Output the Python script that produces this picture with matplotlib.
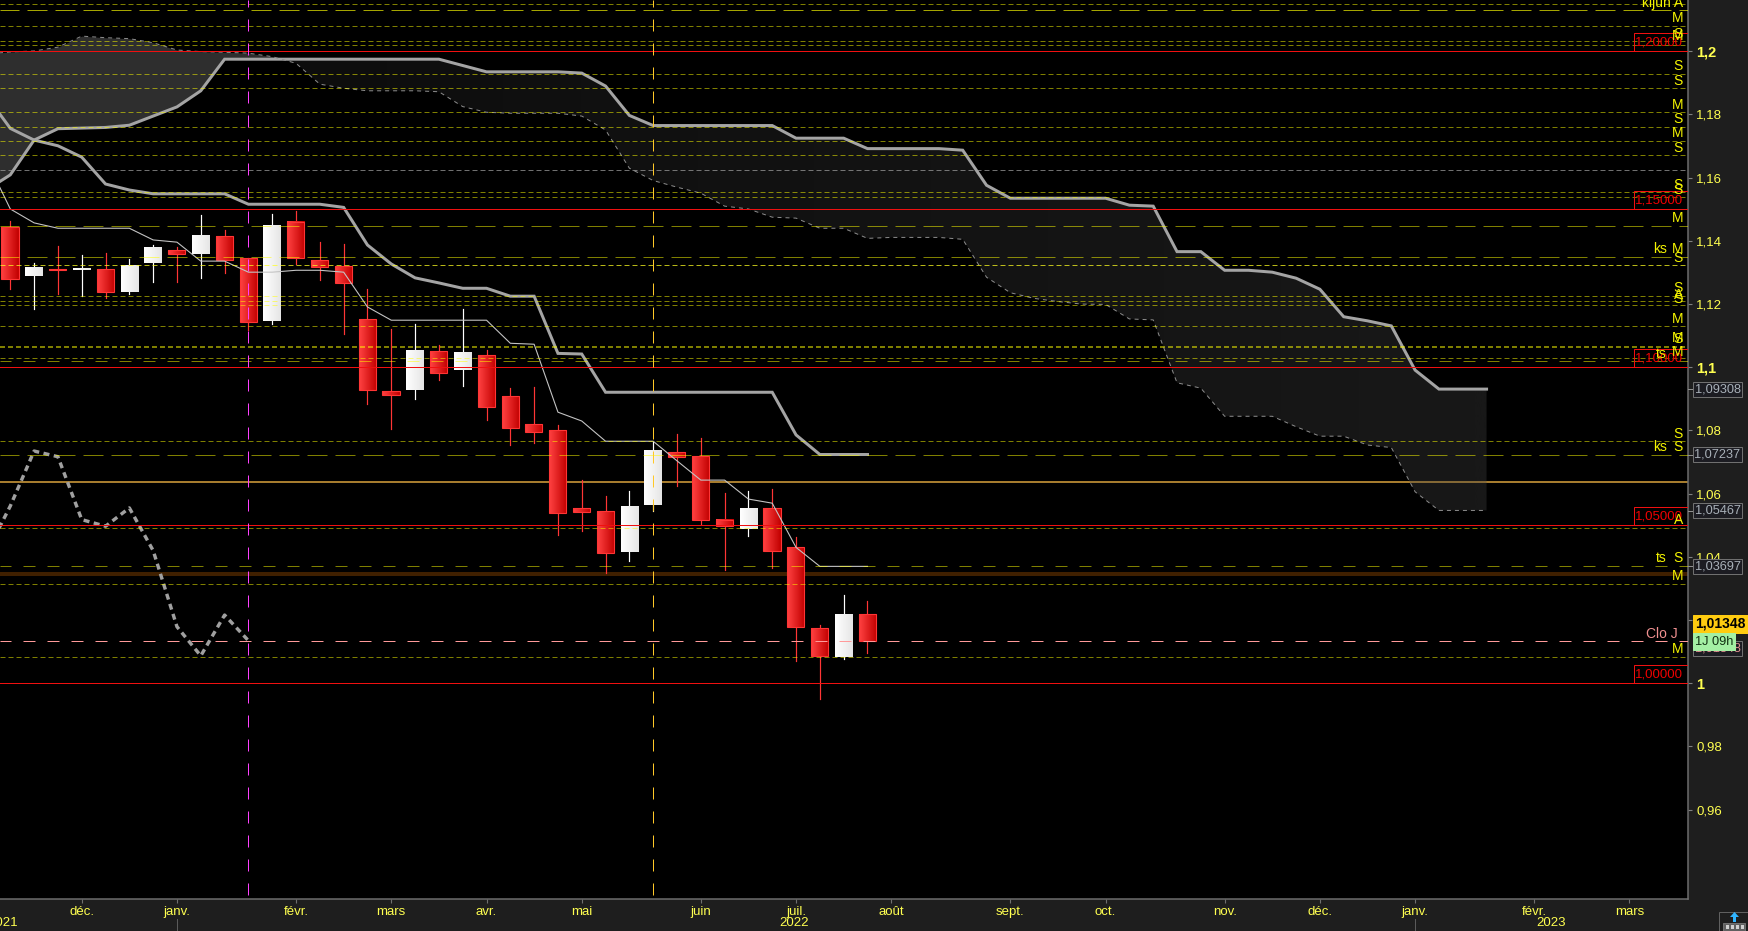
import numpy as np
import matplotlib
matplotlib.use('Agg')
import matplotlib.pyplot as plt
from matplotlib.patches import Rectangle, Polygon
from matplotlib.transforms import blended_transform_factory

W, H = 1748, 931
PX = 0.72  # one pixel in points at dpi 100

# weekly candles
opens = [1.1443, 1.1289, 1.1312, 1.1308, 1.1310, 1.1238, 1.1330, 1.1370, 1.1358, 1.1415, 1.1345, 1.1147, 1.1459,
         1.1339, 1.1321, 1.1152, 1.0924, 1.0928, 1.1051, 1.0991, 1.1038, 1.0908, 1.0820, 1.0801, 1.0554, 1.0544,
         1.0416, 1.0564, 1.0731, 1.0718, 1.0516, 1.0489, 1.0554, 1.0430, 1.0174, 1.0083, 1.0218]
closes = [1.1280, 1.1317, 1.1309, 1.1314, 1.1239, 1.1322, 1.1378, 1.1359, 1.1415, 1.1340, 1.1144, 1.1450, 1.1345,
          1.1318, 1.1268, 1.0929, 1.0913, 1.1052, 1.0983, 1.1045, 1.0875, 1.0809, 1.0796, 1.0540, 1.0543, 1.0413,
          1.0561, 1.0735, 1.0717, 1.0518, 1.0497, 1.0555, 1.0420, 1.0179, 1.0087, 1.0216, 1.0135]
highs = [1.1463, 1.1329, 1.1384, 1.1355, 1.1362, 1.1343, 1.1387, 1.1380, 1.1482, 1.1434, 1.1345, 1.1485, 1.1495,
         1.1397, 1.1390, 1.1248, 1.1121, 1.1137, 1.1071, 1.1184, 1.1055, 1.0934, 1.0938, 1.0817, 1.0643, 1.0593,
         1.0609, 1.0765, 1.0789, 1.0776, 1.0602, 1.0609, 1.0615, 1.0463, 1.0184, 1.0279, 1.0260]
lows = [1.1249, 1.1184, 1.1232, 1.1226, 1.1220, 1.1232, 1.1270, 1.1270, 1.1283, 1.1298, 1.1118, 1.1137, 1.1327,
        1.1276, 1.1105, 1.0884, 1.0805, 1.0900, 1.0960, 1.0941, 1.0833, 1.0754, 1.0760, 1.0469, 1.0482, 1.0349,
        1.0387, 1.0546, 1.0624, 1.0504, 1.0359, 1.0466, 1.0365, 1.0071, 0.9950, 1.0077, 1.0096]

# ichimoku, all start at bar -1 (just off the left edge)
tenkan = [1.1656, 1.1501, 1.1457, 1.1440, 1.1440, 1.1440, 1.1440, 1.1403, 1.1396, 1.1336, 1.1336, 1.1301, 1.1301,
          1.1307, 1.1307, 1.1301, 1.1191, 1.1149, 1.1149, 1.1149, 1.1149, 1.1149, 1.1076, 1.1073, 1.0858, 1.0830,
          1.0766, 1.0766, 1.0766, 1.0704, 1.0643, 1.0643, 1.0583, 1.0570, 1.0430, 1.0370, 1.0370, 1.0370]
kijun = [1.1859, 1.1756, 1.1719, 1.1701, 1.1665, 1.1580, 1.1561, 1.1549, 1.1549, 1.1549, 1.1549, 1.1516, 1.1516,
         1.1516, 1.1516, 1.1506, 1.1387, 1.1327, 1.1283, 1.1267, 1.1250, 1.1250, 1.1225, 1.1225, 1.1044, 1.1042,
         1.0921, 1.0921, 1.0921, 1.0921, 1.0921, 1.0921, 1.0921, 1.0921, 1.0786, 1.0724, 1.0724, 1.0724]
senkou_solid = [1.1561, 1.1609, 1.1719, 1.1755, 1.1757, 1.1759, 1.1766, 1.1795, 1.1824, 1.1875,
                1.1975, 1.1975, 1.1975, 1.1975, 1.1975, 1.1975, 1.1975, 1.1975, 1.1975, 1.1975,
                1.1955, 1.1935, 1.1935, 1.1935, 1.1935, 1.1931, 1.1890, 1.1797,
                1.1765, 1.1765, 1.1765, 1.1765, 1.1765, 1.1765, 1.1725, 1.1725, 1.1725,
                1.1692, 1.1692, 1.1692, 1.1692, 1.1687, 1.1576, 1.1535, 1.1535, 1.1535, 1.1535, 1.1535,
                1.1513, 1.1510, 1.1366, 1.1366, 1.1307, 1.1307, 1.1301, 1.1282, 1.1247, 1.1160, 1.1147,
                1.1131, 1.0991, 1.0931, 1.0931, 1.0931]
senkou_dash = [1.1991, 1.1998, 1.2001, 1.2013, 1.2048, 1.2043, 1.2040, 1.2027, 1.2004, 1.1999,
               1.1997, 1.1994, 1.1983, 1.1962, 1.1896, 1.1883, 1.1875, 1.1875, 1.1875, 1.1872,
               1.1825, 1.1807, 1.1804, 1.1804, 1.1804, 1.1795, 1.1751, 1.1630,
               1.1591, 1.1570, 1.1551, 1.1510, 1.1501, 1.1475, 1.1472, 1.1440, 1.1440,
               1.1408, 1.1411, 1.1411, 1.1411, 1.1405, 1.1285, 1.1236, 1.1218, 1.1208, 1.1200, 1.1199,
               1.1153, 1.1150, 1.0951, 1.0934, 1.0845, 1.0845, 1.0845, 1.0812, 1.0782, 1.0782, 1.0754,
               1.0746, 1.0606, 1.0547, 1.0547, 1.0547]

# horizontal levels
short_levels = [1.2149, 1.2079, 1.2032, 1.2019, 1.1927, 1.1883, 1.1807, 1.1759, 1.1715, 1.1671, 1.1554, 1.1538,
                1.1225, 1.1209, 1.1196, 1.1130, 1.1028, 1.0766, 1.0491, 1.0313, 1.0082]
long_levels = [1.1446, 1.1348, 1.0724]
medium_levels = [1.1019, 1.0370]
round_levels = [1.2, 1.15, 1.1, 1.05, 1.0]
round_labels = ['1,20000', '1,15000', '1,10000', '1,05000', '1,00000']

# small labels at the right edge of the plot
side_labels = ['kijun A', 'M', 'S', 'M', 'S', 'S', 'M', 'S', 'M', 'S', 'S', 'S', 'M', 'M', 'S', 'S', 'A', 'S',
               'M', 'M', 'S', 'M', 'S', 'S', 'A', 'S', 'M', 'M']
side_prices = [1.2157, 1.2109, 1.2061, 1.2052, 1.1957, 1.1912, 1.1836, 1.1789, 1.1745, 1.1700, 1.1583, 1.1567,
               1.1476, 1.1378, 1.1352, 1.1257, 1.1232, 1.1222, 1.1159, 1.1096, 1.1093, 1.1052, 1.0795, 1.0754,
               1.0520, 1.0400, 1.0343, 1.0112]
prefix_labels = ['ks', 'ts', 'ks', 'ts']
prefix_prices = [1.1378, 1.1048, 1.0754, 1.0400]

price_tags = [1.09308, 1.07237, 1.05467, 1.03697]
last_price = 1.01348

y_ticks = [0.96, 0.98, 1.0, 1.02, 1.04, 1.06, 1.08, 1.1, 1.12, 1.14, 1.16, 1.18, 1.2]
y_labels = ['0,96', '0,98', '1', '1,02', '1,04', '1,06', '1,08', '1,1', '1,12', '1,14', '1,16', '1,18', '1,2']
month_pos = [3, 7, 12, 16, 20, 24, 29, 33, 37, 42, 46, 51, 55, 59, 64, 68]
month_labels = ['déc.', 'janv.', 'févr.', 'mars', 'avr.', 'mai', 'juin', 'juil.', 'août', 'sept.', 'oct.', 'nov.',
                'déc.', 'janv.', 'févr.', 'mars']
year_pos = [-0.3, 32.9, 64.7]
year_labels = ['2021', '2022', '2023']
year_sep = [7, 59]


def x_frac(px):
    return px / 1688


plt.rcParams['font.family'] = ['Liberation Sans', 'DejaVu Sans']
plt.rcParams['lines.scale_dashes'] = False

fig = plt.figure(figsize=(W / 100, H / 100), dpi=100, facecolor='#1e1e1e')
ax = fig.add_axes([0, 32 / H, 1688 / W, 899 / H], facecolor='black')
side = blended_transform_factory(ax.transAxes, ax.transData)
bottom = blended_transform_factory(ax.transData, ax.transAxes)

# thick background levels, the cloud sits over them
ax.axhline(1.0638, color='#a67c2e', lw=2 * PX, zorder=1)
ax.axhline(1.0347, color='#402000', lw=4 * PX, zorder=1)

# cloud
xs = np.arange(-1, len(senkou_solid) - 1)
s1 = np.array(senkou_solid)
s2 = np.array(senkou_dash)
ax.fill_between(xs, s1, s2, where=s2 >= s1, interpolate=True, color='#2e2e2e', lw=0, zorder=2)
right_cloud = ax.fill_between(xs, s1, s2, where=s1 >= s2, interpolate=True, facecolor='none', lw=0, zorder=2)
grey = np.linspace(31, 69, 64) / 255
rgba = np.dstack([grey, grey, grey, np.full(64, 0.35)])
im = ax.imshow(rgba, extent=[xs[0], xs[-1], 1.0, 1.21], aspect='auto', interpolation='bilinear', zorder=2)
im.set_clip_path(right_cloud.get_paths()[0], transform=ax.transData)

# candles
red_grad = np.linspace([1.0, 0.26, 0.26], [0.76, 0.0, 0.0], 32).reshape(1, 32, 3)
white_grad = np.linspace([1.0, 1.0, 1.0], [0.9, 0.9, 0.9], 32).reshape(1, 32, 3)
for i in range(len(opens)):
    up = closes[i] > opens[i]
    top, bot = max(opens[i], closes[i]), min(opens[i], closes[i])
    ax.plot([i, i], [lows[i], highs[i]], color='white' if up else '#ff3535', lw=1.2 * PX, zorder=3)
    ax.imshow(white_grad if up else red_grad, extent=[i - 0.37, i + 0.35, bot, top], aspect='auto',
              interpolation='bilinear', zorder=3.1)
    if not up:
        ax.add_patch(Rectangle((i - 0.37, bot), 0.72, top - bot, fill=False, ec='#ff3535', lw=1.1 * PX, zorder=3.2))

# ichimoku lines
ax.plot(xs, s1, color='#a4a4a4', lw=3 * PX, zorder=4, solid_joinstyle='miter')
ax.plot(xs, s2, color='#8c8c8c', lw=1 * PX, ls=(0, (4 * PX, 4 * PX)), zorder=4)
bars = np.arange(-1, len(kijun) - 1)
ax.plot(bars, kijun, color='#a4a4a4', lw=3 * PX, zorder=4, solid_joinstyle='miter')
ax.plot(bars, tenkan, color='#c4c4c4', lw=1.1 * PX, zorder=4)
chikou = closes[25:]
ax.plot(np.arange(-1, len(chikou) - 1), chikou, color='#a0a0a0', lw=3.4 * PX, ls=(0, (6 * PX, 4.5 * PX)), zorder=4)

# levels drawn half transparent over everything
for p in short_levels:
    ax.axhline(p, color='#ffff00', alpha=0.5, lw=1 * PX, ls=(0, (5 * PX, 3 * PX)), zorder=5)
ax.axhline(1.1623, color='#a0a0a0', alpha=0.7, lw=1 * PX, ls=(0, (5 * PX, 3 * PX)), zorder=5)
ax.axhline(1.1323, color='#ffff20', alpha=0.72, lw=1 * PX, ls=(0, (5 * PX, 3 * PX)), zorder=5)
ax.axhline(1.1064, color='#ffff00', alpha=0.5, lw=2 * PX, ls=(0, (5 * PX, 3 * PX)), zorder=5)
ax.axhline(1.2130, color='#ffff00', alpha=0.65, lw=1 * PX, ls=(1 * PX, (20 * PX, 8 * PX)), zorder=5)
for p in long_levels:
    ax.axhline(p, color='#ffff00', alpha=0.5, lw=1 * PX, ls=(1 * PX, (20 * PX, 8 * PX)), zorder=5)
for p in medium_levels:
    ax.axhline(p, color='#ffff00', alpha=0.5, lw=1 * PX, ls=(1 * PX, (12 * PX, 12 * PX)), zorder=5)
ax.axhline(last_price, color='#ff9a9a', lw=1 * PX, ls=(1 * PX, (12 * PX, 12 * PX)), zorder=5)

for p, lab in zip(round_levels, round_labels):
    ax.axhline(p, color='#f01010', lw=1 * PX, zorder=6)
    ax.add_patch(Rectangle((x_frac(1634), p), x_frac(54), 18 / 3160, transform=side, fill=False, ec='#f01010',
                           lw=1 * PX, zorder=6))
    ax.text(x_frac(1683), p + 9 / 3160, lab, transform=side, color='#f00000', fontsize=9.5, ha='right',
            va='center', zorder=6, clip_on=True)

# vertical markers
ax.axvline(10, color='#ff40ff', lw=1 * PX, ls=(20 * PX, (12 * PX, 12 * PX)), zorder=7)
ax.axvline(27, color='#ffc828', lw=1 * PX, ls=(20 * PX, (12 * PX, 12 * PX)), zorder=7)

for lab, p in zip(side_labels, side_prices):
    ax.text(x_frac(1683), p, lab, transform=side, color='#f4f400', fontsize=10, ha='right', va='center_baseline',
            zorder=8, clip_on=True)
for lab, p in zip(prefix_labels, prefix_prices):
    ax.text(x_frac(1667), p, lab, transform=side, color='#f4f400', fontsize=10, ha='right', va='center_baseline',
            zorder=8)
ax.text(x_frac(1678), 1.0162, 'Clo J', transform=side, color='#f09090', fontsize=10, ha='right',
        va='center_baseline', zorder=8)

# axes
ax.set_xlim(-0.4326, 70.46)
ax.set_ylim(0.93174, 1.21623)
ax.yaxis.tick_right()
ax.set_yticks(y_ticks)
ax.set_yticklabels(y_labels, fontsize=9.5, color='#ffff50')
for lab, val in zip(ax.get_yticklabels(), y_labels):
    if val in ('1', '1,1', '1,2'):
        lab.set_fontweight('bold')
        lab.set_fontsize(10.5)
ax.set_xticks(month_pos)
ax.set_xticklabels(month_labels, fontsize=9.5, color='#ffff50')
ax.tick_params(axis='y', colors='#808080', labelcolor='#ffff50', length=3, width=0.8, pad=3)
ax.tick_params(axis='x', colors='#707070', labelcolor='#ffff50', length=3, width=0.8, pad=2)
for name in ('top', 'left'):
    ax.spines[name].set_visible(False)
for name in ('bottom', 'right'):
    ax.spines[name].set_color('#6e6e6e')
    ax.spines[name].set_linewidth(1.5 * PX)

for x, lab in zip(year_pos, year_labels):
    ax.text(x, -24 / 899, lab, transform=bottom, color='#ffff50', fontsize=9.5, ha='center', va='center', clip_on=False)
for x in year_sep:
    ax.plot([x, x], [-20 / 899, -32 / 899], transform=bottom, color='#5a5a5a', lw=1 * PX, clip_on=False)


def price_tag(p, txt, face, edge, color, x1=1742, h=15, weight='normal', size=9.2):
    ax.add_patch(Rectangle((x_frac(1693), p - h / 2 / 3160), x_frac(x1 - 1693), h / 3160, transform=side, fc=face,
                           ec=edge, lw=1 * PX, clip_on=False, zorder=10))
    ax.text(x_frac((1693 + x1) / 2), p, txt, transform=side, color=color, fontsize=size, fontweight=weight,
            ha='center', va='center', clip_on=False, zorder=10)


for p in price_tags:
    ax.plot([x_frac(1688), x_frac(1693)], [p, p], transform=side, color='#909090', lw=1 * PX, clip_on=False, zorder=9)
    price_tag(p, f'{p:.5f}'.replace('.', ','), '#1c1c22', '#707070', '#a8b0b8')
price_tag(1.0110, '1,01348', '#1c1c22', '#707070', '#e09090')
price_tag(1.0188, '1,01348', '#ffcc10', '#ffcc10', 'black', x1=1748, h=18, weight='bold', size=10)
price_tag(1.0132, '1J 09h', '#a4f0a4', '#a4f0a4', '#103010', x1=1735, h=17)

# small button in the corner
fig.add_artist(Rectangle((1719 / W, 0), 29 / W, 19 / H, transform=fig.transFigure, fc='#1e1e1e', ec='#606060', lw=1 * PX))
fig.add_artist(Rectangle((1723 / W, 0), 22 / W, 8 / H, transform=fig.transFigure, fc='#606060', ec='#707070', lw=1 * PX))
for left in (1726, 1731, 1736, 1741):
    fig.add_artist(Rectangle((left / W, 2 / H), 3 / W, 4 / H, transform=fig.transFigure, fc='#d0d0d0', lw=0))
fig.add_artist(Polygon([(1730 / W, 14 / H), (1734.5 / W, 19 / H), (1739 / W, 14 / H), (1736 / W, 14 / H),
                        (1736 / W, 9 / H), (1733 / W, 9 / H), (1733 / W, 14 / H)],
                       transform=fig.transFigure, fc='#30b4ff', lw=0))

fig.savefig('out.png', dpi=100, facecolor=fig.get_facecolor())
